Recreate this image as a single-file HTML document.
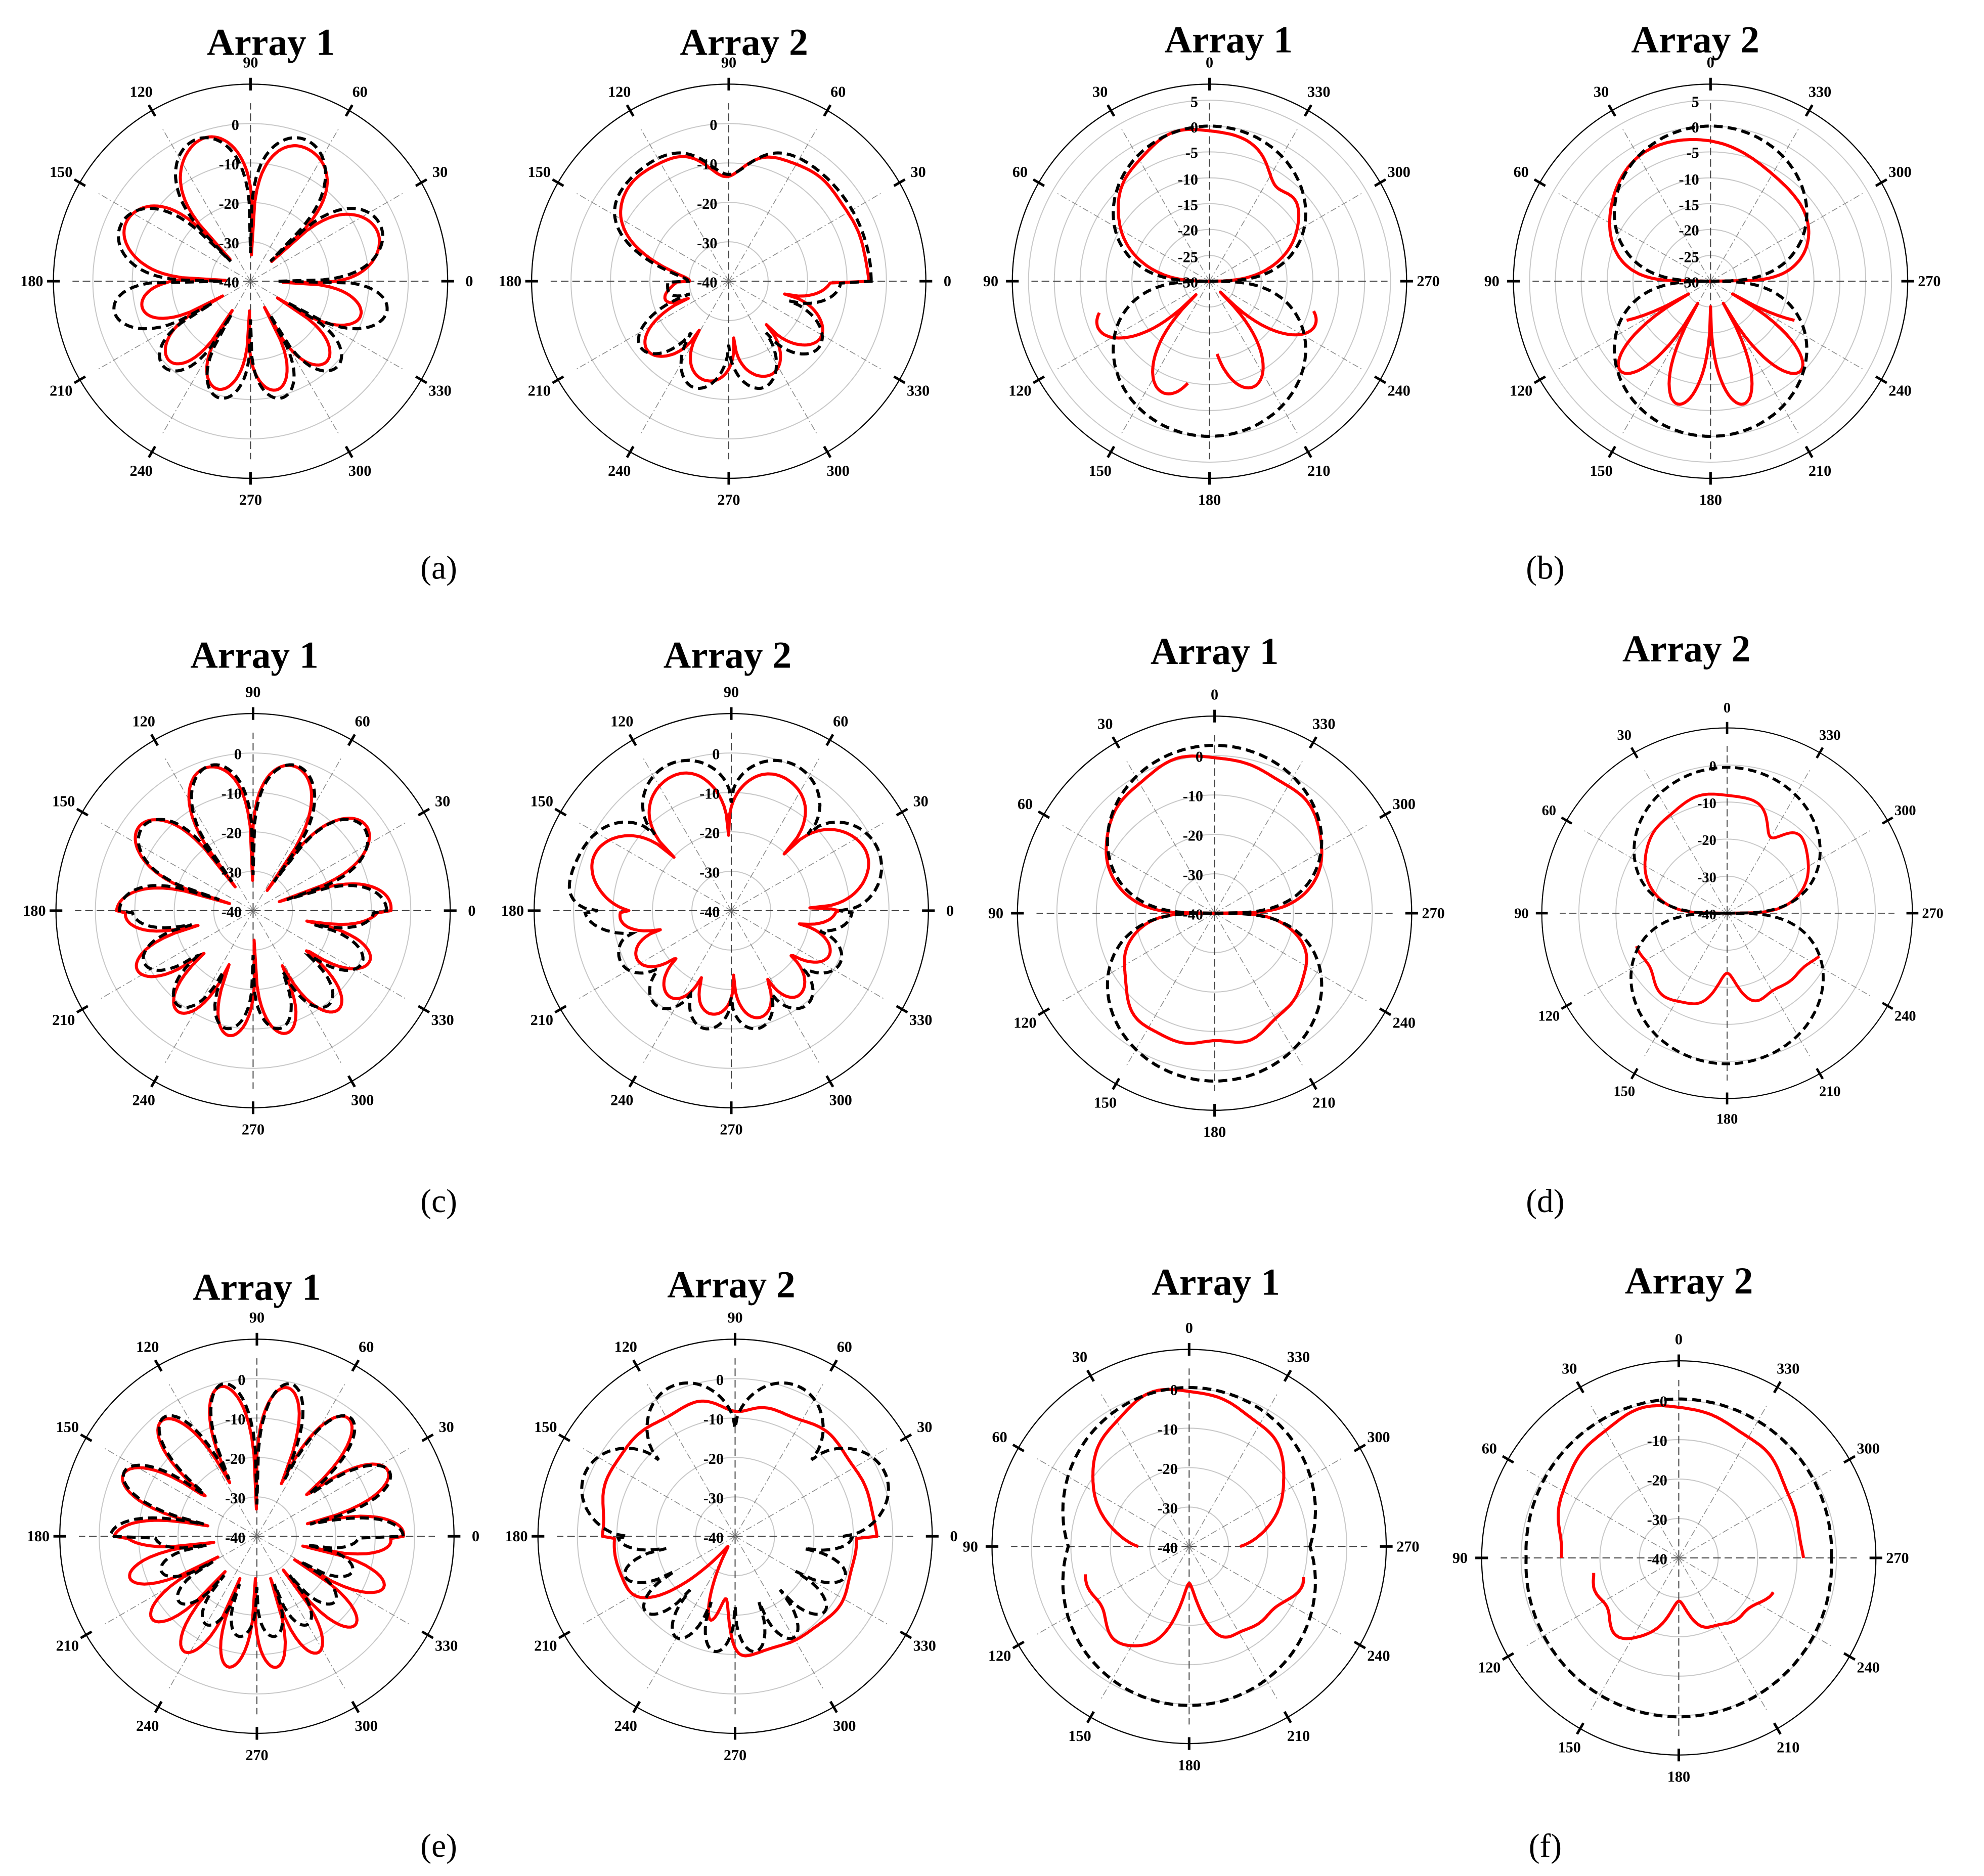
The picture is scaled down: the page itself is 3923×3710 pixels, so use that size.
<!DOCTYPE html>
<html><head><meta charset="utf-8">
<style>
html,body{margin:0;padding:0;background:#fff;}
svg{display:block;}
.t{font-family:"Liberation Serif",serif;font-weight:bold;font-size:30px;text-anchor:middle;}
.l{font-family:"Liberation Serif",serif;font-weight:bold;font-size:12px;text-anchor:middle;}
.d{font-family:"Liberation Serif",serif;font-weight:bold;font-size:12px;text-anchor:end;}
.c{font-family:"Liberation Serif",serif;font-size:26px;text-anchor:middle;}
</style></head><body>
<svg id="s" width="3923" height="3710" viewBox="0 0 1560 1475" xmlns="http://www.w3.org/2000/svg">
<rect width="1560" height="1475" fill="#fff"/>
<g id="grid"></g>
<g id="curves"></g>
<text class="t" x="213" y="43">Array 1</text>
<text class="t" x="585" y="43">Array 2</text>
<text class="t" x="966" y="41">Array 1</text>
<text class="t" x="1333" y="41">Array 2</text>
<text class="t" x="200" y="525">Array 1</text>
<text class="t" x="572" y="525">Array 2</text>
<text class="t" x="955" y="522">Array 1</text>
<text class="t" x="1326" y="520">Array 2</text>
<text class="t" x="202" y="1022">Array 1</text>
<text class="t" x="575" y="1020">Array 2</text>
<text class="t" x="956" y="1018">Array 1</text>
<text class="t" x="1328" y="1017">Array 2</text>
<text class="c" x="345" y="455">(a)</text>
<text class="c" x="1215" y="455">(b)</text>
<text class="c" x="345" y="953">(c)</text>
<text class="c" x="1215" y="953">(d)</text>
<text class="c" x="345" y="1460">(e)</text>
<text class="c" x="1215" y="1460">(f)</text>

<g transform="translate(197,221)">
<text class="l" x="172" y="4">0</text><text class="l" x="149" y="-82">30</text><text class="l" x="86" y="-145">60</text><text class="l" x="0" y="-168">90</text><text class="l" x="-86" y="-145">120</text><text class="l" x="-149" y="-82">150</text><text class="l" x="-172" y="4">180</text><text class="l" x="-149" y="90">210</text><text class="l" x="-86" y="153">240</text><text class="l" x="0" y="176">270</text><text class="l" x="86" y="153">300</text><text class="l" x="149" y="90">330</text>
<text class="d" x="-9" y="-119">0</text><text class="d" x="-9" y="-88">-10</text><text class="d" x="-9" y="-57">-20</text><text class="d" x="-9" y="-26">-30</text><text class="d" x="-9" y="5">-40</text>
</g>
<g transform="translate(573,221)">
<text class="l" x="172" y="4">0</text><text class="l" x="149" y="-82">30</text><text class="l" x="86" y="-145">60</text><text class="l" x="0" y="-168">90</text><text class="l" x="-86" y="-145">120</text><text class="l" x="-149" y="-82">150</text><text class="l" x="-172" y="4">180</text><text class="l" x="-149" y="90">210</text><text class="l" x="-86" y="153">240</text><text class="l" x="0" y="176">270</text><text class="l" x="86" y="153">300</text><text class="l" x="149" y="90">330</text>
<text class="d" x="-9" y="-119">0</text><text class="d" x="-9" y="-88">-10</text><text class="d" x="-9" y="-57">-20</text><text class="d" x="-9" y="-26">-30</text><text class="d" x="-9" y="5">-40</text>
</g>
<g transform="translate(951,221)">
<text class="l" x="172" y="4">270</text><text class="l" x="149" y="-82">300</text><text class="l" x="86" y="-145">330</text><text class="l" x="0" y="-168">0</text><text class="l" x="-86" y="-145">30</text><text class="l" x="-149" y="-82">60</text><text class="l" x="-172" y="4">90</text><text class="l" x="-149" y="90">120</text><text class="l" x="-86" y="153">150</text><text class="l" x="0" y="176">180</text><text class="l" x="86" y="153">210</text><text class="l" x="149" y="90">240</text>
<text class="d" x="-9" y="-137">5</text><text class="d" x="-9" y="-117">0</text><text class="d" x="-9" y="-97">-5</text><text class="d" x="-9" y="-76">-10</text><text class="d" x="-9" y="-56">-15</text><text class="d" x="-9" y="-36">-20</text><text class="d" x="-9" y="-15">-25</text><text class="d" x="-9" y="5">-30</text>
</g>
<g transform="translate(1345,221)">
<text class="l" x="172" y="4">270</text><text class="l" x="149" y="-82">300</text><text class="l" x="86" y="-145">330</text><text class="l" x="0" y="-168">0</text><text class="l" x="-86" y="-145">30</text><text class="l" x="-149" y="-82">60</text><text class="l" x="-172" y="4">90</text><text class="l" x="-149" y="90">120</text><text class="l" x="-86" y="153">150</text><text class="l" x="0" y="176">180</text><text class="l" x="86" y="153">210</text><text class="l" x="149" y="90">240</text>
<text class="d" x="-9" y="-137">5</text><text class="d" x="-9" y="-117">0</text><text class="d" x="-9" y="-97">-5</text><text class="d" x="-9" y="-76">-10</text><text class="d" x="-9" y="-56">-15</text><text class="d" x="-9" y="-36">-20</text><text class="d" x="-9" y="-15">-25</text><text class="d" x="-9" y="5">-30</text>
</g>
<g transform="translate(199,716)">
<text class="l" x="172" y="4">0</text><text class="l" x="149" y="-82">30</text><text class="l" x="86" y="-145">60</text><text class="l" x="0" y="-168">90</text><text class="l" x="-86" y="-145">120</text><text class="l" x="-149" y="-82">150</text><text class="l" x="-172" y="4">180</text><text class="l" x="-149" y="90">210</text><text class="l" x="-86" y="153">240</text><text class="l" x="0" y="176">270</text><text class="l" x="86" y="153">300</text><text class="l" x="149" y="90">330</text>
<text class="d" x="-9" y="-119">0</text><text class="d" x="-9" y="-88">-10</text><text class="d" x="-9" y="-57">-20</text><text class="d" x="-9" y="-26">-30</text><text class="d" x="-9" y="5">-40</text>
</g>
<g transform="translate(575,716)">
<text class="l" x="172" y="4">0</text><text class="l" x="149" y="-82">30</text><text class="l" x="86" y="-145">60</text><text class="l" x="0" y="-168">90</text><text class="l" x="-86" y="-145">120</text><text class="l" x="-149" y="-82">150</text><text class="l" x="-172" y="4">180</text><text class="l" x="-149" y="90">210</text><text class="l" x="-86" y="153">240</text><text class="l" x="0" y="176">270</text><text class="l" x="86" y="153">300</text><text class="l" x="149" y="90">330</text>
<text class="d" x="-9" y="-119">0</text><text class="d" x="-9" y="-88">-10</text><text class="d" x="-9" y="-57">-20</text><text class="d" x="-9" y="-26">-30</text><text class="d" x="-9" y="5">-40</text>
</g>
<g transform="translate(955,718)">
<text class="l" x="172" y="4">270</text><text class="l" x="149" y="-82">300</text><text class="l" x="86" y="-145">330</text><text class="l" x="0" y="-168">0</text><text class="l" x="-86" y="-145">30</text><text class="l" x="-149" y="-82">60</text><text class="l" x="-172" y="4">90</text><text class="l" x="-149" y="90">120</text><text class="l" x="-86" y="153">150</text><text class="l" x="0" y="176">180</text><text class="l" x="86" y="153">210</text><text class="l" x="149" y="90">240</text>
<text class="d" x="-9" y="-119">0</text><text class="d" x="-9" y="-88">-10</text><text class="d" x="-9" y="-57">-20</text><text class="d" x="-9" y="-26">-30</text><text class="d" x="-9" y="5">-40</text>
</g>
<g transform="translate(1358,718) scale(0.94)">
<text class="l" x="172" y="4">270</text><text class="l" x="149" y="-82">300</text><text class="l" x="86" y="-145">330</text><text class="l" x="0" y="-168">0</text><text class="l" x="-86" y="-145">30</text><text class="l" x="-149" y="-82">60</text><text class="l" x="-172" y="4">90</text><text class="l" x="-149" y="90">120</text><text class="l" x="-86" y="153">150</text><text class="l" x="0" y="176">180</text><text class="l" x="86" y="153">210</text><text class="l" x="149" y="90">240</text>
<text class="d" x="-9" y="-119">0</text><text class="d" x="-9" y="-88">-10</text><text class="d" x="-9" y="-57">-20</text><text class="d" x="-9" y="-26">-30</text><text class="d" x="-9" y="5">-40</text>
</g>
<g transform="translate(202,1208)">
<text class="l" x="172" y="4">0</text><text class="l" x="149" y="-82">30</text><text class="l" x="86" y="-145">60</text><text class="l" x="0" y="-168">90</text><text class="l" x="-86" y="-145">120</text><text class="l" x="-149" y="-82">150</text><text class="l" x="-172" y="4">180</text><text class="l" x="-149" y="90">210</text><text class="l" x="-86" y="153">240</text><text class="l" x="0" y="176">270</text><text class="l" x="86" y="153">300</text><text class="l" x="149" y="90">330</text>
<text class="d" x="-9" y="-119">0</text><text class="d" x="-9" y="-88">-10</text><text class="d" x="-9" y="-57">-20</text><text class="d" x="-9" y="-26">-30</text><text class="d" x="-9" y="5">-40</text>
</g>
<g transform="translate(578,1208)">
<text class="l" x="172" y="4">0</text><text class="l" x="149" y="-82">30</text><text class="l" x="86" y="-145">60</text><text class="l" x="0" y="-168">90</text><text class="l" x="-86" y="-145">120</text><text class="l" x="-149" y="-82">150</text><text class="l" x="-172" y="4">180</text><text class="l" x="-149" y="90">210</text><text class="l" x="-86" y="153">240</text><text class="l" x="0" y="176">270</text><text class="l" x="86" y="153">300</text><text class="l" x="149" y="90">330</text>
<text class="d" x="-9" y="-119">0</text><text class="d" x="-9" y="-88">-10</text><text class="d" x="-9" y="-57">-20</text><text class="d" x="-9" y="-26">-30</text><text class="d" x="-9" y="5">-40</text>
</g>
<g transform="translate(935,1216)">
<text class="l" x="172" y="4">270</text><text class="l" x="149" y="-82">300</text><text class="l" x="86" y="-145">330</text><text class="l" x="0" y="-168">0</text><text class="l" x="-86" y="-145">30</text><text class="l" x="-149" y="-82">60</text><text class="l" x="-172" y="4">90</text><text class="l" x="-149" y="90">120</text><text class="l" x="-86" y="153">150</text><text class="l" x="0" y="176">180</text><text class="l" x="86" y="153">210</text><text class="l" x="149" y="90">240</text>
<text class="d" x="-9" y="-119">0</text><text class="d" x="-9" y="-88">-10</text><text class="d" x="-9" y="-57">-20</text><text class="d" x="-9" y="-26">-30</text><text class="d" x="-9" y="5">-40</text>
</g>
<g transform="translate(1320,1225)">
<text class="l" x="172" y="4">270</text><text class="l" x="149" y="-82">300</text><text class="l" x="86" y="-145">330</text><text class="l" x="0" y="-168">0</text><text class="l" x="-86" y="-145">30</text><text class="l" x="-149" y="-82">60</text><text class="l" x="-172" y="4">90</text><text class="l" x="-149" y="90">120</text><text class="l" x="-86" y="153">150</text><text class="l" x="0" y="176">180</text><text class="l" x="86" y="153">210</text><text class="l" x="149" y="90">240</text>
<text class="d" x="-9" y="-119">0</text><text class="d" x="-9" y="-88">-10</text><text class="d" x="-9" y="-57">-20</text><text class="d" x="-9" y="-26">-30</text><text class="d" x="-9" y="5">-40</text>
</g>
</svg>
<script>
(function(){
var NS="http://www.w3.org/2000/svg",D=Math.PI/180;
var grid=document.getElementById("grid"),cur=document.getElementById("curves");
function el(p,tag,a){var e=document.createElementNS(NS,tag);for(var k in a)e.setAttribute(k,a[k]);p.appendChild(e);return e;}
function L(f,k,f0,rmax,rmin,p){return rmin+(rmax-rmin)*Math.pow(Math.abs(Math.sin(k*(f-f0)*D)),p);}
function N(f,s){return 0.5*Math.sin(f*3*D+s)+0.3*Math.sin(f*7*D+2*s)+0.2*Math.sin(f*13*D+3*s);}
function up(f){f=((f%360)+360)%360;return f<=180;}
function g(f,c,w){var d=((f-c)%360+540)%360-180;return Math.exp(-(d/w)*(d/w));}
function S(f){return Math.abs(Math.sin(f*D));}
function C(f){return Math.abs(Math.cos(f*D));}
var plots=[
 {x:197,y:221,s:1,
  b:function(f){return up(f)?L(f,4,90,125-15*C(f),22,0.35):L(f,6,270,95,30,0.35)+20*g(f,0,25)+20*g(f,180,25);},
  r:[[0,360,function(f){return up(f)?L(f,4,88,123-18*C(f),22,0.33)+3*N(f,1):L(f,6,268,88,25,0.35)+3*N(f,2);}]]},
 {x:573,y:221,s:1,
  b:function(f){return up(f)?112-28*g(f,90,15)-80*g(f,180,20):L(f,5,270,88,50,0.6)-40*g(f,180,20);},
  r:[[0,360,function(f){return up(f)?108-25*g(f,92,14)-75*g(f,180,22)+3*N(f,1):L(f,5,275,82,45,0.5)-40*g(f,180,20)+3*N(f,3);}]]},
 {x:951,y:221,s:1,
  b:function(f){return 122*Math.pow(S(f),0.5);},
  r:[[0,180,function(f){return 120*Math.pow(S(f),0.6)+5*N(f,1)*S(f)-15*g(f,55,10);}],
     [196,258,function(f){return L(f,4,270,95,15,0.6);}],[276,344,function(f){return L(f,4,270,90,12,0.6);}]]},
 {x:1345,y:221,s:1,
  b:function(f){return 122*Math.pow(S(f),0.5);},
  r:[[0,180,function(f){return 112*Math.pow(S(f),0.3)-10*g(f,60,25)+6*g(f,120,20);}],
     [205,335,function(f){return L(f,6,270,100,20,0.6);}]]},
 {x:199,y:716,s:1,
  b:function(f){return up(f)?L(f,5,90,125-20*C(f),28,0.35):L(f,7,270,95,35,0.35);},
  r:[[0,360,function(f){return up(f)?L(f,5,91,123-15*C(f),22,0.35)+3*N(f,2):L(f,7,272,100,25,0.35)+3*N(f,4);}]]},
 {x:575,y:716,s:1,
  b:function(f){return up(f)?L(f,4,90,125,85,0.5)+20*g(f,180,14):L(f,7,270,95,68,0.5)+20*g(f,180,14);},
  r:[[0,360,function(f){return up(f)?L(f,4,92,115,60,0.45)+3*N(f,1):L(f,7,272,85,50,0.45)+4*N(f,5);}]]},
 {x:955,y:718,s:1,
  b:function(f){return 132*Math.pow(S(f),0.45);},
  r:[[0,360,function(f){return up(f)?124*Math.pow(S(f),0.35)+5*N(f,1)*S(f):105*Math.pow(S(f),0.35)+8*N(f,2)*S(f);}]]},
 {x:1358,y:718,s:0.94,
  b:function(f){return up(f)?122*Math.pow(S(f),0.45):126*Math.pow(S(f),0.45);},
  r:[[0,180,function(f){return 100*Math.pow(S(f),0.35)+4*N(f,1)*S(f)-20*g(f,60,8);}],
     [200,335,function(f){return 80+8*N(f,2)-25*g(f,270,12);}]]},
 {x:202,y:1208,s:1,
  b:function(f){return up(f)?L(f,7,90,125-10*C(f),25,0.4):L(f,9,270,80,40,0.4);},
  r:[[0,360,function(f){return up(f)?L(f,7,91,122-8*C(f),22,0.4)+2*N(f,1):L(f,9,268,105,35,0.4)+3*N(f,2);}]]},
 {x:578,y:1208,s:1,
  b:function(f){return up(f)?L(f,4,90,128,85,0.6):L(f,9,270,92,55,0.5);},
  r:[[0,360,function(f){return up(f)?108+5*N(f,1)-8*g(f,90,10):95*(1-0.9*g(f,235,15))+4*N(f,3)-40*g(f,262,6);}]]},
 {x:935,y:1216,s:1,
  b:function(f){return 95+30*S(f);},
  r:[[0,180,function(f){return 40+84*Math.pow(S(f),0.9)+6*N(f,1)*S(f);}],
     [195,345,function(f){return 85+10*N(f,2)-50*g(f,270,15);}]]},
 {x:1320,y:1225,s:1,
  b:function(f){return 120+5*S(f);},
  r:[[0,180,function(f){return 95+25*Math.pow(S(f-5),2)+4*N(f,1);}],
     [190,340,function(f){return 70+10*N(f,2)-30*g(f,270,20);}]]}
];
plots.forEach(function(p,i){
 var G=el(grid,"g",{transform:"translate("+p.x+","+p.y+") scale("+p.s+")"});
 var rings=(i===2||i===3)?[20.3,40.7,61,81.3,101.7,122,142.3]:[31,62,93,124];
 rings.forEach(function(r){el(G,"circle",{cx:0,cy:0,r:r,fill:"none",stroke:"#c8c8c8","stroke-width":0.8});});
 el(G,"circle",{cx:0,cy:0,r:155,fill:"none",stroke:"#000","stroke-width":0.9});
 for(var a=0;a<360;a+=30){
  var c=Math.cos(a*D),s=-Math.sin(a*D);
  var main=(a%90===0);
  el(G,"line",{x1:0,y1:0,x2:140*c,y2:140*s,stroke:main?"#444":"#888","stroke-width":main?0.8:0.6,"stroke-dasharray":main?"6,3":"5,2,1,2"});
  el(G,"line",{x1:150*c,y1:150*s,x2:160*c,y2:160*s,stroke:"#000","stroke-width":2});
 }
 var C2=el(cur,"g",{transform:"translate("+p.x+","+p.y+") scale("+p.s+")"});
 function path(f0,f1,fn,close){
  var d="";for(var f=f0;f<=f1;f+=1){var r=Math.max(0,fn(f));d+=(f===f0?"M":"L")+(r*Math.cos(f*D)).toFixed(1)+","+(-r*Math.sin(f*D)).toFixed(1);}
  return d+(close?"Z":"");
 }
 p.r.forEach(function(seg){var full=(seg[0]===0&&seg[1]===360);
  el(C2,"path",{d:path(seg[0],seg[1],seg[2],full),fill:"none",stroke:"#f00","stroke-width":2.4,"stroke-linejoin":"round"});});
 el(C2,"path",{d:path(0,360,p.b,true),fill:"none",stroke:"#000","stroke-width":2.4,"stroke-dasharray":"7,4"});
});
})();
</script>
</body></html>
